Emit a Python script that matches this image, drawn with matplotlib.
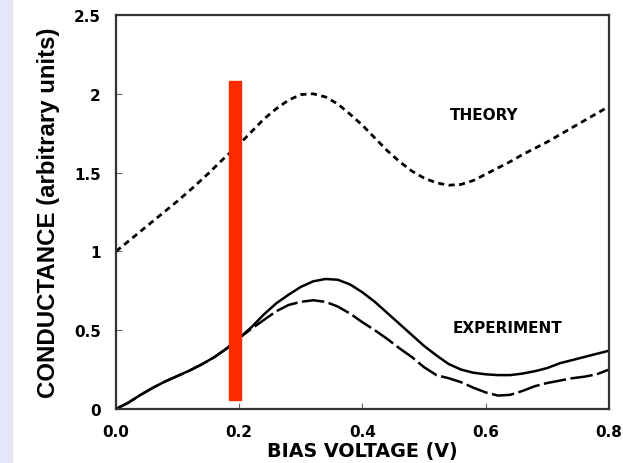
import matplotlib
matplotlib.use("Agg")
import matplotlib.pyplot as plt
from matplotlib.patches import Rectangle

plt.rcParams['font.family'] = ['DejaVu Sans']

# theory curve (short dashes)
theory_x = [0.0, 0.025, 0.05, 0.075, 0.1, 0.125, 0.15, 0.175, 0.2, 0.22,
            0.24, 0.26, 0.28, 0.3, 0.32, 0.34, 0.36, 0.38, 0.4, 0.42, 0.44,
            0.46, 0.48, 0.5, 0.52, 0.54, 0.56, 0.58, 0.6, 0.62, 0.64, 0.66,
            0.68, 0.7, 0.72, 0.74, 0.76, 0.78, 0.8]
theory_y = [1.0, 1.08, 1.16, 1.24, 1.32, 1.405, 1.495, 1.59, 1.68, 1.76,
            1.84, 1.905, 1.96, 1.995, 2.0, 1.98, 1.935, 1.87, 1.8, 1.72, 1.64,
            1.57, 1.51, 1.465, 1.435, 1.42, 1.425, 1.45, 1.49, 1.53, 1.57, 1.615,
            1.655, 1.695, 1.74, 1.785, 1.83, 1.875, 1.92]

# experiment, solid trace
exp1_x = [0.0, 0.02, 0.04, 0.06, 0.08, 0.1, 0.12, 0.14, 0.16, 0.18, 0.2,
          0.22, 0.24, 0.26, 0.28, 0.3, 0.32, 0.34, 0.36, 0.38, 0.4, 0.42,
          0.44, 0.46, 0.48, 0.5, 0.52, 0.54, 0.56, 0.58, 0.6, 0.62, 0.64,
          0.66, 0.68, 0.7, 0.72, 0.74, 0.76, 0.78, 0.8]
exp1_y = [0.0, 0.04, 0.09, 0.135, 0.175, 0.21, 0.245, 0.285, 0.33, 0.385,
          0.45, 0.52, 0.6, 0.67, 0.725, 0.775, 0.81, 0.825, 0.82, 0.79, 0.74,
          0.68, 0.61, 0.54, 0.47, 0.4, 0.34, 0.285, 0.25, 0.23, 0.22, 0.215,
          0.215, 0.225, 0.24, 0.26, 0.29, 0.31, 0.33, 0.35, 0.37]

# experiment, long-dash trace
exp2_x = [0.0, 0.02, 0.04, 0.06, 0.08, 0.1, 0.12, 0.14, 0.16, 0.18, 0.2,
          0.22, 0.24, 0.26, 0.28, 0.3, 0.32, 0.34, 0.36, 0.38, 0.4, 0.42,
          0.44, 0.46, 0.48, 0.5, 0.52, 0.54, 0.56, 0.58, 0.6, 0.62, 0.64,
          0.66, 0.68, 0.7, 0.72, 0.74, 0.76, 0.78, 0.8]
exp2_y = [0.0, 0.04, 0.09, 0.135, 0.175, 0.21, 0.245, 0.285, 0.33, 0.385,
          0.45, 0.51, 0.565, 0.62, 0.66, 0.68, 0.69, 0.68, 0.65, 0.605, 0.55,
          0.5, 0.445, 0.385, 0.33, 0.265, 0.215, 0.195, 0.17, 0.135, 0.105,
          0.085, 0.09, 0.115, 0.145, 0.165, 0.18, 0.195, 0.205, 0.22, 0.25]

# red marker bar
bar_x0, bar_x1 = 0.184, 0.203
bar_y0, bar_y1 = 0.055, 2.08

xticks = [0.0, 0.2, 0.4, 0.6, 0.8]
xtick_labels = ['0.0', '0.2', '0.4', '0.6', '0.8']
yticks = [0, 0.5, 1, 1.5, 2, 2.5]
ytick_labels = ['0', '0.5', '1', '1.5', '2', '2.5']

fig = plt.figure(figsize=(6.23, 4.64), dpi=100)
fig.patches.append(Rectangle((0, 0), 12 / 623, 1, transform=fig.transFigure,
                             color='#e6e6fa', zorder=0))
ax = fig.add_axes([0.1862, 0.1164, 0.7913, 0.8491])

ax.plot(theory_x, theory_y, color='black', lw=2, dashes=(2.2, 1.6))
ax.plot(exp1_x, exp1_y, color='black', lw=1.8)
ax.plot(exp2_x, exp2_y, color='black', lw=1.8, dashes=(9, 1.8))
ax.add_patch(Rectangle((bar_x0, bar_y0), bar_x1 - bar_x0, bar_y1 - bar_y0,
                       color='#ff2a00', zorder=5))

ax.text(0.597, 1.87, 'THEORY', fontsize=11, fontweight='bold',
        ha='center', va='center')
ax.text(0.636, 0.52, 'EXPERIMENT', fontsize=11, fontweight='bold',
        ha='center', va='center')

ax.set_xlim(0, 0.8)
ax.set_ylim(0, 2.5)
ax.set_xticks(xticks)
ax.set_xticklabels(xtick_labels, fontweight='bold', fontsize=11)
ax.set_yticks(yticks)
ax.set_yticklabels(ytick_labels, fontweight='bold', fontsize=11)
ax.tick_params(direction='in', length=4, width=0.8, color='#666666')
ax.tick_params(axis='x', pad=11)
ax.tick_params(axis='y', pad=11)

for s in ax.spines.values():
    s.set_color('#333333')
    s.set_linewidth(1.6)

ax.set_xlabel('BIAS VOLTAGE (V)', fontsize=13.8, fontweight='bold', labelpad=1)
ax.set_ylabel('CONDUCTANCE (arbitrary units)', fontsize=17.3, fontweight='bold',
              family='Liberation Sans', labelpad=10)

fig.savefig('out.png', dpi=100)
